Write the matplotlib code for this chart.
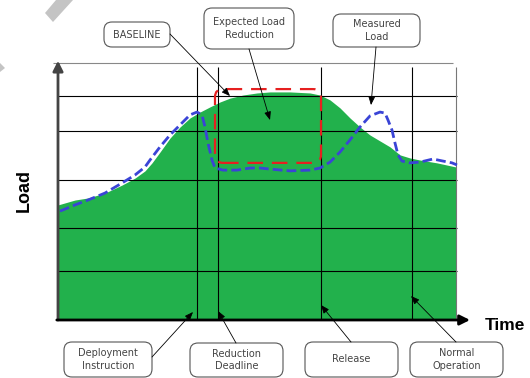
import matplotlib.pyplot as plt
from matplotlib.patches import FancyBboxPatch, Polygon

# 1. Dados (tempo 0-100, carga 0-100, unidades arbitrárias)
baseline_time = [0, 4.25, 7.5, 11.75, 16, 19.25, 21.75, 23.5, 25.5, 28, 30.5, 33, 35.5,
                 38, 40.5, 43, 46.25, 49.75, 53, 58, 63, 65.5, 68, 70.5, 73, 75.5, 78,
                 80.5, 83, 85.5, 88, 90.5, 94.75, 99.5]
baseline_load = [44.6, 46.5, 47.3, 49.2, 52.3, 55.0, 57.8, 60.9, 65.1, 70.5, 74.8, 78.3, 80.6,
                 82.6, 84.5, 86.0, 87.2, 88.0, 88.4, 88.4, 88.0, 87.2, 85.3, 82.2, 78.3, 74.8, 71.7,
                 69.4, 67.1, 64.0, 62.8, 62.0, 60.9, 59.3]

measured_time = [0.5, 4.25, 7.5, 11.75, 16, 19.25, 21.75, 23, 25.5, 28, 30.5, 33, 34.75,
                 36, 36.75, 37.5, 38.5, 39.25, 41.25, 44.75, 48, 50.5, 53, 58, 63, 65.5,
                 68, 70.5, 73, 75.5, 78, 80.5, 81.75, 82.5, 83.5, 84.25, 85, 86, 88,
                 90.5, 93.75, 96.25, 98.5, 99.75]
measured_load = [42.2, 44.6, 46.5, 49.2, 53.1, 56.2, 59.3, 62.0, 67.1, 71.7, 75.6, 79.5, 80.6,
                 79.5, 74.8, 68.6, 62.0, 58.9, 58.1, 58.1, 58.9, 58.9, 58.5, 57.8, 58.1, 58.9,
                 61.2, 65.1, 69.8, 74.8, 79.1, 80.6, 80.2, 77.5, 73.6, 68.6, 64.0, 61.6, 60.9,
                 61.2, 62.4, 61.6, 60.9, 60.1]

grid_loads = [19.0, 35.7, 54.3, 73.3, 86.8]
event_times = [34.75, 40, 65.75, 88.5]
end_time = 99.5

# janela de redução esperada: início, fim, carga mínima, carga máxima
reduction_window = (39.25, 65.75, 60.9, 89.5)

# caixas de texto: (rótulo, centro x/y em pixels, largura, altura, início da seta, ponta da seta em dados)
callouts = [
    ("BASELINE", (137, 34.5), 66, 25, (170, 34), (43, 86.8)),
    ("Expected Load\nReduction", (249, 28.5), 90, 41, (249, 49), (53, 77.5)),
    ("Measured\nLoad", (376.5, 30.5), 87, 33, (376, 47), (78.25, 83.3)),
    ("Deployment\nInstruction", (108, 359.5), 88, 35, (152, 357), (33.75, 3.1)),
    ("Reduction\nDeadline", (236.5, 360), 93, 34, (236, 343), (40, 3.5)),
    ("Release", (351.5, 359.5), 93, 35, (351, 342), (65.75, 5.8)),
    ("Normal\nOperation", (456.5, 359.5), 93, 35, (456, 342), (88.25, 9.3)),
]

# 2. Figura
W, H = 530, 378
fig = plt.figure(figsize=(W / 100, H / 100), dpi=100)
ax = fig.add_axes([58 / W, 58 / H, 400 / W, 258 / H])
ax.set_xlim(0, 100)
ax.set_ylim(0, 100)
ax.axis('off')

ax.fill_between(baseline_time, baseline_load, 0, color='#22b14c', lw=0, zorder=1)

ax.hlines(grid_loads, 0, end_time + 0.25, color='black', lw=0.8, zorder=2)
ax.vlines(event_times, 0, 98, color='black', lw=0.8, zorder=2)
ax.vlines(end_time, 0, 98, color='#777777', lw=0.8, zorder=2)
ax.hlines(99.6, -1.25, 98.75, color='#888888', lw=0.8, zorder=2, clip_on=False)

x0, x1, y0, y1 = reduction_window
red_box = FancyBboxPatch((x0, y0), x1 - x0, y1 - y0,
                         boxstyle='round,pad=0,rounding_size=2', mutation_aspect=1.55,
                         fill=False, ec='#e62020', lw=1.6, ls=(0, (7, 4)), zorder=3)
ax.add_patch(red_box)

ax.plot(measured_time, measured_load, color='#3a44d6', lw=2, ls=(0, (3.5, 1.5)), zorder=4)

# eixos com setas
ax.annotate('', xy=(0, 100.5), xytext=(0, 0), annotation_clip=False,
            arrowprops=dict(arrowstyle='-|>,head_length=0.6,head_width=0.3', color='#444444',
                            lw=2, shrinkA=0, shrinkB=0, mutation_scale=10))
ax.annotate('', xy=(103, 0), xytext=(-0.3, 0), annotation_clip=False,
            arrowprops=dict(arrowstyle='-|>,head_length=0.6,head_width=0.3', color='black',
                            lw=2, shrinkA=0, shrinkB=0, mutation_scale=10))

# 3. Camada de anotações em pixels
ov = fig.add_axes([0, 0, 1, 1], zorder=5)
ov.set_xlim(0, W)
ov.set_ylim(H, 0)
ov.axis('off')

ov.add_patch(Polygon([(45, 13), (53, 22), (73, 0), (56, 0)], closed=True, fc='#c4c4c4', ec='none'))
ov.add_patch(Polygon([(0, 63), (5, 68), (0, 72)], closed=True, fc='#c4c4c4', ec='none'))

for label, (cx, cy), bw, bh, start, tip in callouts:
    ov.add_patch(FancyBboxPatch((cx - bw / 2, cy - bh / 2), bw, bh,
                                boxstyle='round,pad=0,rounding_size=8',
                                fc='white', ec='#555555', lw=0.8))
    ov.text(cx, cy, label, ha='center', va='center', fontsize=7, color='#444444',
            linespacing=1.35)
    ov.annotate('', xy=tip, xycoords=ax.transData, xytext=start, textcoords='data',
                annotation_clip=False,
                arrowprops=dict(arrowstyle='-|>,head_length=0.5,head_width=0.2', color='black',
                                lw=0.6, shrinkA=0, shrinkB=0, mutation_scale=10))

ov.text(24, 191, "Load", rotation=90, ha='center', va='center', fontsize=13,
        fontweight='bold', family='Liberation Sans')
ov.text(505, 326, "Time", ha='center', va='center', fontsize=12.5,
        fontweight='bold', family='Liberation Sans')

fig.savefig('out.png', dpi=100)
